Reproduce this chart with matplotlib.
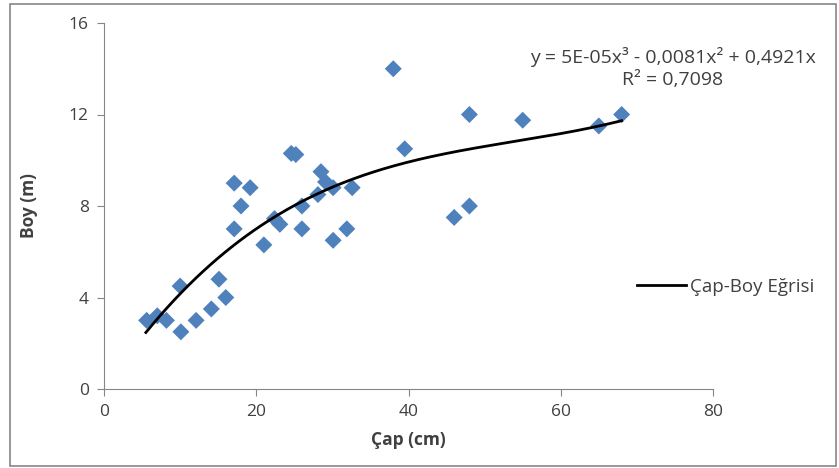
import numpy as np
import matplotlib
matplotlib.use('Agg')
import matplotlib.pyplot as plt
from matplotlib.patches import Rectangle

# diameter (cm) vs height (m)
cap = [5.6, 7.0, 8.2, 10.0, 10.1, 12.1, 14.1, 15.1, 16.0, 17.1, 17.1, 18.0, 19.2,
       21.0, 22.4, 23.1, 24.6, 25.2, 26.0, 26.0, 28.1, 28.5, 29.1, 30.1, 30.1,
       31.9, 32.6, 38.0, 39.5, 46.0, 48.0, 48.0, 55.0, 65.0, 68.0]
boy = [3.0, 3.2, 3.0, 4.5, 2.5, 3.0, 3.5, 4.8, 4.0, 7.0, 9.0, 8.0, 8.8,
       6.3, 7.45, 7.2, 10.3, 10.25, 8.0, 7.0, 8.5, 9.5, 9.05, 8.8, 6.5,
       7.0, 8.8, 14.0, 10.5, 7.5, 8.0, 12.0, 11.75, 11.5, 12.0]

# trend line coefficients shown on the chart (x^3, x^2, x)
coef = [5e-05, -0.0081, 0.4921]
trend_x = [5.5, 68]

plt.rcParams['font.family'] = ['Open Sans', 'DejaVu Sans']

fig = plt.figure(figsize=(8.39, 4.68), dpi=100)
ax = fig.add_axes([104/839, 1 - 389/468, 609/839, 366/468])

ax.scatter(cap, boy, marker='D', s=75, color='#4F81BD', edgecolors='none', zorder=3)

xx = np.linspace(trend_x[0], trend_x[1], 200)
yy = coef[0]*xx**3 + coef[1]*xx**2 + coef[2]*xx
ax.plot(xx, yy, color='black', lw=2, label='Çap-Boy Eğrisi', zorder=4)

ax.set_xlim(0, 80)
ax.set_ylim(0, 16)
ax.set_xticks([0, 20, 40, 60, 80])
ax.set_yticks([0, 4, 8, 12, 16])
for s in ['top', 'right']:
    ax.spines[s].set_visible(False)
for s in ['left', 'bottom']:
    ax.spines[s].set_color('#868686')
ax.tick_params(colors='#868686', labelcolor='#404040', labelsize=12.5, length=5, pad=6)

ax.set_xlabel('Çap (cm)', fontsize=12.5, fontweight='bold', color='#404040', labelpad=8)
ax.set_ylabel('Boy (m)', fontsize=12.5, fontweight='bold', color='#404040', labelpad=22)

fig.text(673/839, 1 - 57/468, 'y = 5E-05x³ - 0,0081x² + 0,4921x', ha='center', va='center',
         fontsize=14, color='#404040')
fig.text(673/839, 1 - 80/468, 'R² = 0,7098', ha='center', va='center',
         fontsize=14, color='#404040')

fig.legend(loc='center left', bbox_to_anchor=(620/839, 1 - 287/468), frameon=False,
           fontsize=13.5, handlelength=2.6, handletextpad=0.25, labelcolor='#404040')

fig.patches.append(Rectangle((10/839, 2/468), 826/839, 462/468, transform=fig.transFigure,
                             fill=False, edgecolor='#868686', lw=1.2))

fig.savefig('out.png', dpi=100)
